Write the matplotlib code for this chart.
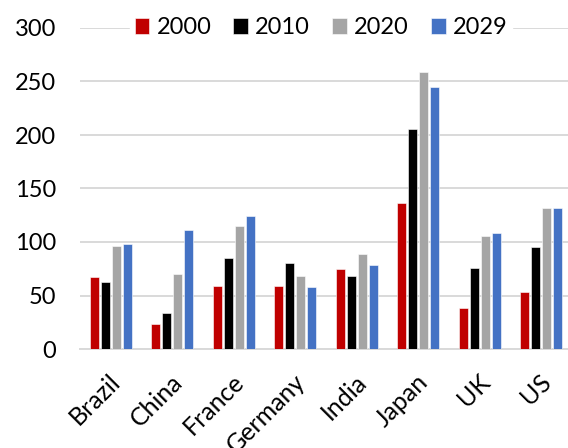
import numpy as np
import matplotlib
matplotlib.use('Agg')
import matplotlib.pyplot as plt
import matplotlib.transforms as mtransforms

plt.rcParams['font.family'] = ['Lato', 'DejaVu Sans']

countries = ['Brazil', 'China', 'France', 'Germany', 'India', 'Japan', 'UK', 'US']
years = ['2000', '2010', '2020', '2029']
v2000 = [67.5, 23.5, 59, 59, 75, 136, 38, 53.5]
v2010 = [62.5, 34, 85.5, 80.5, 68, 206, 76, 95]
v2020 = [96.5, 70, 114.5, 68, 89, 258.5, 106, 132]
v2029 = [98, 111.5, 124, 58, 78.5, 245, 108.5, 132]
colors = ['#c00000', '#000000', '#a5a5a5', '#4472c4']

series = [v2000, v2010, v2020, v2029]

fig = plt.figure(figsize=(5.68, 4.48), dpi=100)
ax = fig.add_axes([80/568, 99/448, 492/568, 321/448])

x = np.arange(len(countries))
slot = 0.18
bw = 0.145
for i, vals in enumerate(series):
    ax.bar(x + (i - 1.5) * slot, vals, width=bw, color=colors[i],
           edgecolor='white', linewidth=0.4, label=years[i], zorder=3)

ax.set_xlim(-0.5, len(countries) - 0.5)
ax.set_ylim(0, 300)
ax.set_yticks(range(0, 301, 50))
ax.yaxis.grid(True, color='#d9d9d9', linewidth=1.4, zorder=0)
ax.set_axisbelow(True)
for s in ['top', 'right', 'left']:
    ax.spines[s].set_visible(False)
ax.spines['bottom'].set_color('#d9d9d9')
ax.spines['bottom'].set_linewidth(1.4)
ax.tick_params(axis='both', length=0, labelsize=17)
ax.tick_params(axis='y', pad=17)
ax.set_xticks(x)
ax.set_xticklabels(countries, rotation=45, ha='right', rotation_mode='anchor',
                   fontsize=18)
ax.tick_params(axis='x', pad=10)
# nudge the rotated labels a bit down like the original
shift = mtransforms.ScaledTranslation(-2/100, -7/100, fig.dpi_scale_trans)
for lab in ax.get_xticklabels():
    lab.set_transform(lab.get_transform() + shift)

leg = ax.legend(loc='center', bbox_to_anchor=(0.49, 1.0), ncol=4, frameon=True,
                fontsize=17, handlelength=0.63, handleheight=0.63,
                handletextpad=0.3, columnspacing=0.93, borderpad=0.2,
                fancybox=False, edgecolor='white', framealpha=1)
leg.set_zorder(5)

fig.savefig('out.png', dpi=100)
